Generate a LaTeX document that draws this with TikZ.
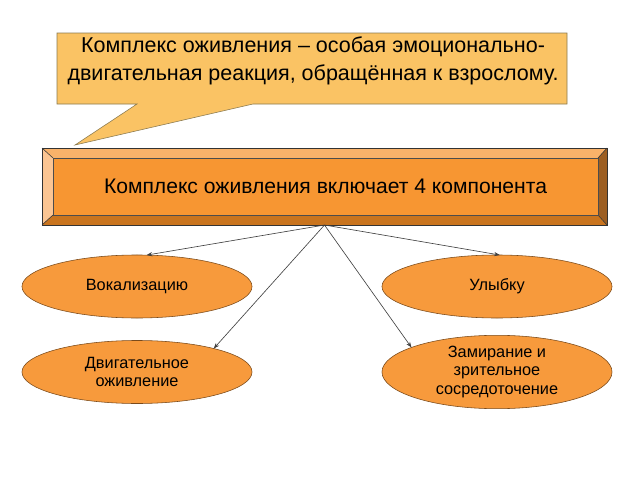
\documentclass[tikz,border=0pt]{standalone}
\usepackage{fontspec}
\setmainfont{Liberation Sans}
\usetikzlibrary{shapes.geometric,arrows.meta}

\definecolor{calloutfill}{HTML}{FAC364}
\definecolor{calloutline}{HTML}{8A7A50}
\definecolor{faceorange}{HTML}{F79632}
\definecolor{bevtop}{HTML}{F9B26A}
\definecolor{bevleft}{HTML}{FBC593}
\definecolor{bevright}{HTML}{9C5E22}
\definecolor{bevbottom}{HTML}{C9741E}
\definecolor{ovalfill}{HTML}{F79A3C}
\definecolor{ovalline}{HTML}{7A4A1A}

\tikzset{
    oval/.style={ellipse, draw=ovalline, fill=ovalfill, thin,
        minimum width=5.75cm, minimum height=1.575cm, inner sep=0pt,
        outer sep=0pt, align=center, font=\fontsize{11.6}{13.2}\selectfont},
    link/.style={draw=black!75, line width=0.45pt, -{Stealth[length=4pt,width=3pt]}}
}

\begin{document}
\begin{tikzpicture}[x=0.025cm, y=-0.025cm]
    \useasboundingbox (0, 0) rectangle (640, 480);
    % speech bubble
    \draw[fill=calloutfill, draw=calloutline, thin]
        (57, 33) -- (567, 33) -- (567, 104) -- (253, 104) --
        (75, 145) -- (137, 104) -- (57, 104) -- cycle;
    \node[align=center, font=\fontsize{15.3}{19.5}\selectfont] (bubble) at (313, 61)
        {Комплекс оживления -- особая эмоционально-\\двигательная реакция, обращённая к взрослому.};
    % bevelled box
    \fill[bevtop] (42, 148) -- (607, 148) -- (598, 158) -- (53, 158) -- cycle;
    \fill[bevleft] (42, 148) -- (53, 158) -- (53, 215) -- (42, 225) -- cycle;
    \fill[bevright] (607, 148) -- (607, 225) -- (598, 215) -- (598, 158) -- cycle;
    \fill[bevbottom] (42, 225) -- (53, 215) -- (598, 215) -- (607, 225) -- cycle;
    \draw[black!80, thin] (42, 148) -- (53, 158) (607, 148) -- (598, 158)
        (42, 225) -- (53, 215) (607, 225) -- (598, 215);
    \node[draw=black!70, thin, fill=faceorange, minimum width=13.625cm,
        minimum height=1.425cm, outer sep=0pt,
        font=\fontsize{15}{19}\selectfont] (face) at (325.5, 186.5)
        {Комплекс оживления включает 4 компонента};
    \node[draw=black!80, thin, minimum width=14.125cm, minimum height=1.925cm,
        outer sep=0pt] (comp) at (324.5, 186.5) {};
    % components
    \node[oval] (vocal) at (137, 286.5) {Вокализацию};
    \node[oval] (smile) at (497, 286.5) {Улыбку};
    \node[oval] (motor) at (137, 372) {Двигательное\\оживление};
    \node[oval] (freeze) at (497, 372) {Замирание и\\зрительное\\сосредоточение};
    \coordinate (hub) at (comp.south);
    \draw[link] (hub) -- (vocal.73);
    \draw[link] (hub) -- (smile.85);
    \draw[link] (hub) -- (motor.17);
    \draw[link] (hub) -- (freeze.164);
\end{tikzpicture}
\end{document}
